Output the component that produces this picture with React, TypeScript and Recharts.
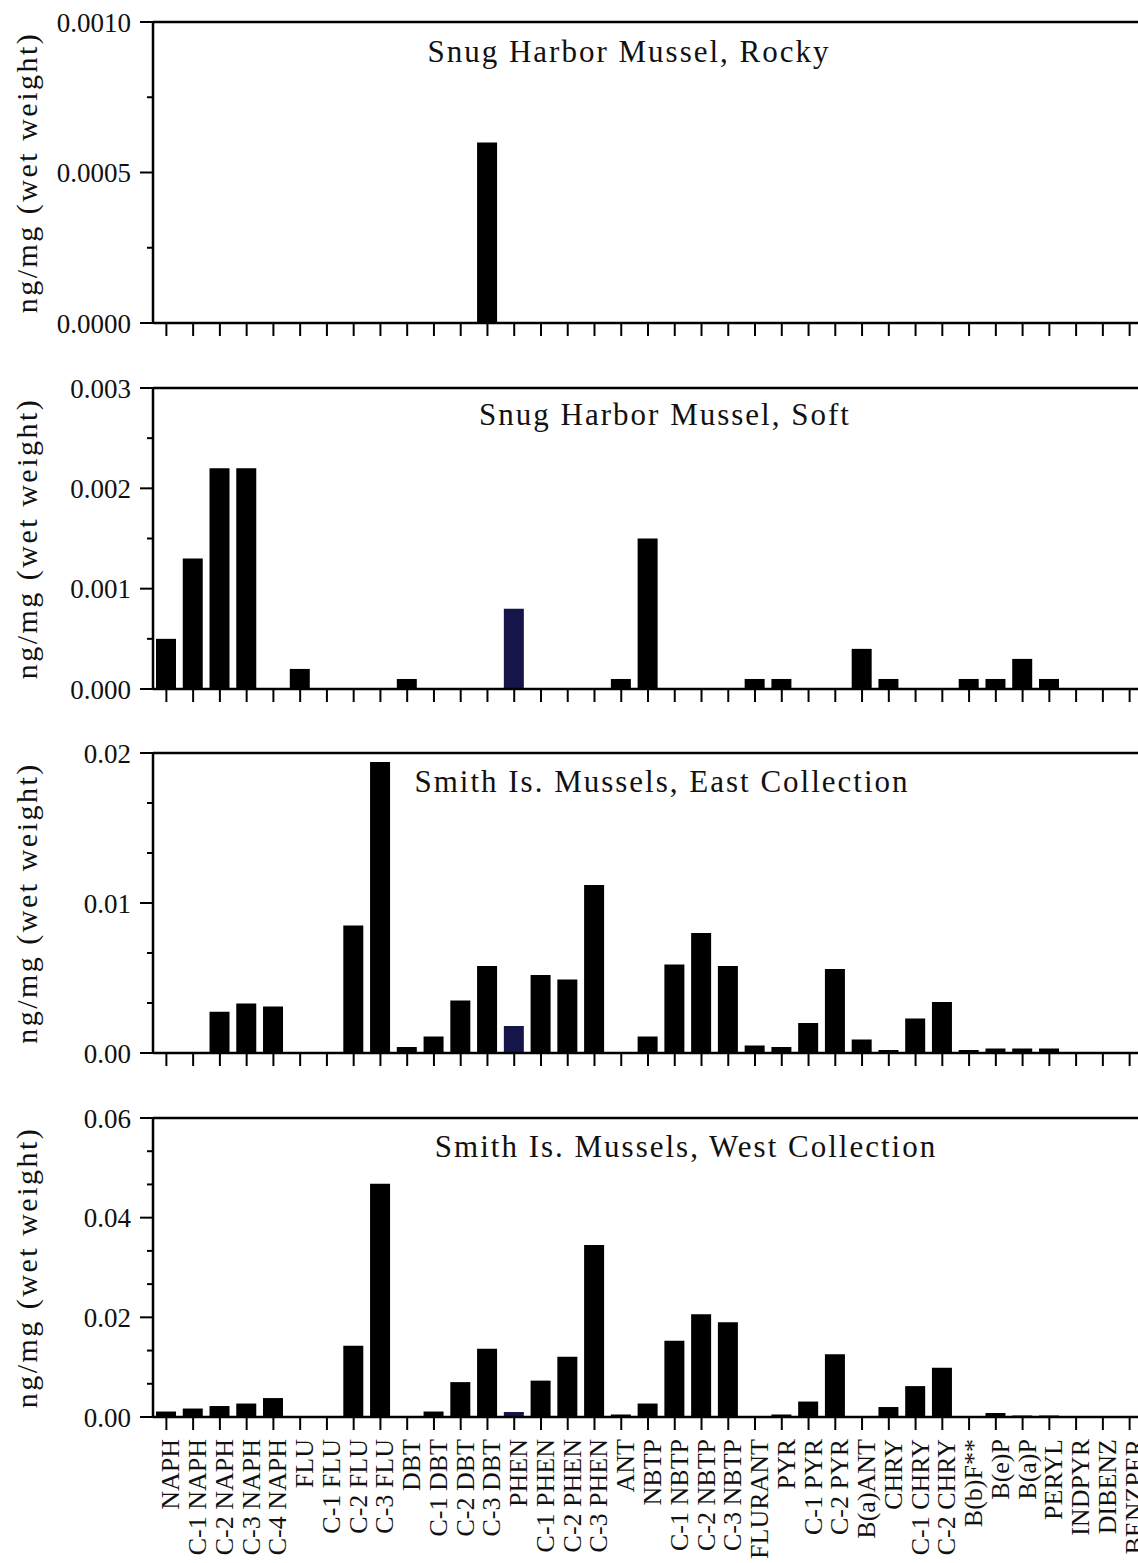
import React from 'react';
import { BarChart, Bar, XAxis, YAxis, Cell, ReferenceLine } from 'recharts';

// PAH analytes along the shared x axis
const categories = [
  'NAPH', 'C-1 NAPH', 'C-2 NAPH', 'C-3 NAPH', 'C-4 NAPH',
  'FLU', 'C-1 FLU', 'C-2 FLU', 'C-3 FLU',
  'DBT', 'C-1 DBT', 'C-2 DBT', 'C-3 DBT',
  'PHEN', 'C-1 PHEN', 'C-2 PHEN', 'C-3 PHEN', 'ANT',
  'NBTP', 'C-1 NBTP', 'C-2 NBTP', 'C-3 NBTP',
  'FLURANT', 'PYR', 'C-1 PYR', 'C-2 PYR',
  'B(a)ANT', 'CHRY', 'C-1 CHRY', 'C-2 CHRY',
  'B(b)F**', 'B(e)P', 'B(a)P', 'PERYL', 'INDPYR', 'DIBENZ', 'BENZPER',
];

// concentrations, ng/mg wet weight
const snugRocky = [
  0, 0, 0, 0, 0, 0, 0, 0, 0, 0, 0, 0, 0.0006, 0, 0, 0, 0, 0, 0,
  0, 0, 0, 0, 0, 0, 0, 0, 0, 0, 0, 0, 0, 0, 0, 0, 0, 0,
];
const snugSoft = [
  0.0005, 0.0013, 0.0022, 0.0022, 0, 0.0002, 0, 0, 0, 0.0001, 0, 0, 0,
  0.0008, 0, 0, 0, 0.0001, 0.0015, 0, 0, 0, 0.0001, 0.0001, 0, 0,
  0.0004, 0.0001, 0, 0, 0.0001, 0.0001, 0.0003, 0.0001, 0, 0, 0,
];
const smithEast = [
  0, 0, 0.00275, 0.0033, 0.0031, 0, 0, 0.0085, 0.0194, 0.0004, 0.0011,
  0.0035, 0.0058, 0.0018, 0.0052, 0.0049, 0.0112, 0, 0.0011, 0.0059,
  0.008, 0.0058, 0.0005, 0.0004, 0.002, 0.0056, 0.0009, 0.0002, 0.0023,
  0.0034, 0.0002, 0.0003, 0.0003, 0.0003, 0, 0, 0,
];
const smithWest = [
  0.0011, 0.0017, 0.0022, 0.0027, 0.0038, 0, 0, 0.0143, 0.0468, 0, 0.0011,
  0.007, 0.0137, 0.001, 0.0073, 0.0121, 0.0345, 0.0005, 0.0027, 0.0153,
  0.0206, 0.019, 0, 0.0005, 0.0031, 0.0126, 0, 0.002, 0.0062, 0.0099,
  0, 0.0008, 0.0003, 0.0003, 0, 0, 0,
];

const titles = [
  'Snug Harbor Mussel, Rocky',
  'Snug Harbor Mussel, Soft',
  'Smith Is. Mussels, East Collection',
  'Smith Is. Mussels, West Collection',
];

// labelled y ticks, unlabelled minor ticks, decimals shown
const majorTicks = [
  [0, 0.0005, 0.001],
  [0, 0.001, 0.002, 0.003],
  [0, 0.01, 0.02],
  [0, 0.02, 0.04, 0.06],
];
const minorTicks = [
  [0.00025, 0.00075],
  [0.0005, 0.0015, 0.0025],
  [0.02 / 6, 0.04 / 6, 0.08 / 6, 0.1 / 6],
  [0.02 / 3, 0.04 / 3, 0.08 / 3, 0.1 / 3, 0.14 / 3, 0.16 / 3],
];
const tickDigits = [4, 3, 2, 2];
const yTitle = 'ng/mg (wet weight)';

const series = [snugRocky, snugSoft, smithEast, smithWest];

// layout: plot top (page px), plot height, title centre x, title baseline offset
const layout = [
  { top: 22, height: 301, titleX: 629, titleDy: 40 },
  { top: 388, height: 301, titleX: 665, titleDy: 37 },
  { top: 753, height: 300, titleX: 662, titleDy: 39 },
  { top: 1118, height: 299, titleX: 686, titleDy: 39 },
];

const FONT = '"Liberation Serif", "Times New Roman", serif';
const MARGIN_TOP = 22;
const NAVY = '#15154a';

const makeYTick = (majors: number[], digits: number) => (props: any) => {
  const { x, y, payload } = props;
  const isMajor = majors.some((m) => Math.abs(m - payload.value) < 1e-9);
  return (
    <g>
      <line x1={x - (isMajor ? 13 : 6)} x2={x} y1={y} y2={y} stroke="#000" strokeWidth={2} />
      {isMajor && (
        <text x={x - 22} y={y} dy="0.36em" textAnchor="end" fontFamily={FONT} fontSize={27} fill="#111">
          {payload.value.toFixed(digits)}
        </text>
      )}
    </g>
  );
};

const XLabelTick = (props: any) => {
  const { x, y, payload } = props;
  return (
    <g transform={`translate(${x},${y}) rotate(-90)`}>
      <text x={0} y={0} dy={13} textAnchor="end" fontFamily={FONT} fontSize={26} fill="#111">
        {payload.value}
      </text>
    </g>
  );
};

// upper panels keep the tick marks but show no category names
const NoLabelTick = () => <g />;

function Panel({ idx }: { idx: number }) {
  const lay = layout[idx];
  const values = series[idx];
  const data = categories.map((name, i) => ({ name, v: values[i] }));
  const majors = majorTicks[idx];
  const max = majors[majors.length - 1];
  const last = idx === series.length - 1;
  const xAxisHeight = last ? 150 : 20;
  const top = Math.min(MARGIN_TOP, lay.top);

  return (
    <div style={{ position: 'absolute', left: 0, top: lay.top - top }}>
      <BarChart
        width={1160}
        height={top + lay.height + xAxisHeight}
        data={data}
        margin={{ top, right: 17, bottom: 0, left: 0 }}
      >
        <XAxis
          dataKey="name"
          interval={0}
          height={xAxisHeight}
          axisLine={{ stroke: '#000', strokeWidth: 2.5 }}
          tickLine={{ stroke: '#000', strokeWidth: 2 }}
          tickSize={13}
          tickMargin={9}
          tick={last ? <XLabelTick /> : <NoLabelTick />}
        />
        <YAxis
          type="number"
          domain={[0, max]}
          ticks={[...majors, ...minorTicks[idx]]}
          interval={0}
          width={153}
          tickLine={false}
          tickSize={0}
          tickMargin={0}
          axisLine={{ stroke: '#000', strokeWidth: 2.5 }}
          tick={makeYTick(majors, tickDigits[idx])}
          label={{
            content: () => (
              <text
                transform={`translate(37, ${top + lay.height / 2}) rotate(-90)`}
                textAnchor="middle"
                fontFamily={FONT}
                fontSize={30}
                letterSpacing={2.5}
                fill="#111"
              >
                {yTitle}
              </text>
            ),
          }}
        />
        <ReferenceLine
          y={max}
          stroke="#000"
          strokeWidth={2.5}
          ifOverflow="visible"
          label={{
            content: () => (
              <text
                x={lay.titleX}
                y={top + lay.titleDy}
                textAnchor="middle"
                fontFamily={FONT}
                fontSize={31}
                letterSpacing={2}
                fill="#111"
              >
                {titles[idx]}
              </text>
            ),
          }}
        />
        <Bar dataKey="v" barSize={20} isAnimationActive={false}>
          {data.map((d, i) => (
            <Cell key={`c-${i}`} fill={d.name === 'PHEN' ? NAVY : '#000'} />
          ))}
        </Bar>
      </BarChart>
    </div>
  );
}

export default function App() {
  return (
    <div
      style={{
        position: 'absolute',
        left: 0,
        top: 0,
        width: 1138,
        height: 1563,
        overflow: 'hidden',
        background: '#fff',
      }}
    >
      {series.map((_, i) => (
        <Panel key={i} idx={i} />
      ))}
    </div>
  );
}
